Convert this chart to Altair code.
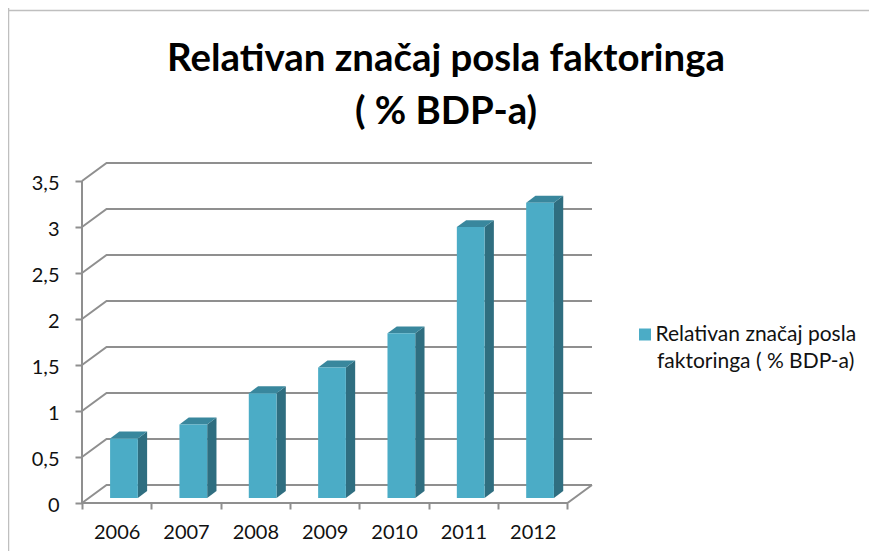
import altair as alt
import pandas as pd

TITLE = ["Relativan značaj posla faktoringa", "( % BDP-a)"]
SERIES = "Relativan značaj posla faktoringa ( % BDP-a)"
YEARS = [2006, 2007, 2008, 2009, 2010, 2011, 2012]
VALUES = [0.646, 0.80, 1.14, 1.42, 1.79, 2.945, 3.21]
TICKS = [0, 0.5, 1, 1.5, 2, 2.5, 3, 3.5]
LEGEND_LINES = ["Relativan značaj posla", "faktoringa ( % BDP-a)"]

FONT = "Lato"
GRID = "#8f8f8f"
FRONT = "#4bacc6"
SIDE = "#2f6e80"
TOP = "#39879d"
FRAME = "#bfbfbf"

# chart box geometry, in category units (x) and value units (y)
N = len(YEARS)
WALL_DX, WALL_DY = 0.354, 0.196
BAR_LEFT, BAR_W = 0.405, 0.40
BAR_DX, BAR_DY = 0.134, 0.076
BAR_BASE = 0.054
XMAX = N + WALL_DX
YMAX = TICKS[-1] + WALL_DY

xs = alt.Scale(domain=[0, XMAX], nice=False, zero=False)
ys = alt.Scale(domain=[0, YMAX], nice=False, zero=False)

grid_rows = []
for t in TICKS:
    grid_rows += [
        dict(id=f"g{t}", o=0, x=0, y=t),
        dict(id=f"g{t}", o=1, x=WALL_DX, y=t + WALL_DY),
        dict(id=f"g{t}", o=2, x=XMAX, y=t + WALL_DY),
    ]
grid_rows += [
    dict(id="floor", o=0, x=XMAX, y=WALL_DY),
    dict(id="floor", o=1, x=N, y=0),
    dict(id="floor", o=2, x=0, y=0),
    dict(id="axis", o=0, x=0, y=0),
    dict(id="axis", o=1, x=0, y=TICKS[-1]),
]
grid_df = pd.DataFrame(grid_rows)

front_rows, side_rows, top_rows = [], [], []
for i, (yr, v) in enumerate(zip(YEARS, VALUES)):
    l = i + BAR_LEFT
    r = l + BAR_W
    b = BAR_BASE
    t = b + v
    front_rows.append(dict(year=yr, x=l, x2=r, y=b, y2=t, s=SERIES))
    side_rows += [
        dict(year=yr, x=r, y=b, y2=t),
        dict(year=yr, x=r + BAR_DX, y=b + BAR_DY, y2=t + BAR_DY),
    ]
    top_rows += [
        dict(year=yr, x=l, y=t, y2=t),
        dict(year=yr, x=l + BAR_DX, y=t, y2=t + BAR_DY),
        dict(year=yr, x=r, y=t, y2=t + BAR_DY),
        dict(year=yr, x=r + BAR_DX, y=t + BAR_DY, y2=t + BAR_DY),
    ]

x_ticks = [k / 2 for k in range(0, 2 * N + 1)]
x_axis = alt.Axis(
    values=x_ticks, title=None, domain=False, grid=False, tickColor=GRID, tickWidth=2,
    tickSize=6, labelOverlap=False, labelFont=FONT, labelFontSize=20, labelColor="#111111",
    labelPadding=13, labelBound=False, labelFlush=False, labelAngle=0,
    tickOpacity={"condition": {"test": "datum.value % 1 == 0", "value": 1}, "value": 0},
    labelExpr=f"datum.value % 1 == 0.5 ? '' + ({YEARS[0]} + floor(datum.value)) : ''",
)
y_axis = alt.Axis(
    values=TICKS, title=None, domain=False, grid=False, tickColor=GRID, tickWidth=2, tickSize=7,
    labelOverlap=False, labelFont=FONT, labelFontSize=20, labelColor="#111111", labelPadding=16,
    labelOffset=2, labelBound=False, labelExpr="replace(format(datum.value, '~g'), '.', ',')",
)
X = alt.X("x:Q", scale=xs, axis=x_axis)
Y = alt.Y("y:Q", scale=ys, axis=y_axis)

lines = alt.Chart(grid_df).mark_line(color=GRID, strokeWidth=2).encode(
    x=X, y=Y, detail="id:N", order="o:Q",
)

legend = alt.Legend(
    orient="none", legendX=552.5, legendY=161, title=None, padding=0, symbolType="square",
    symbolSize=144, symbolStrokeWidth=0, labelFont=FONT, labelFontSize=21, labelColor="#111111",
    labelLimit=400, labelOffset=0, labelBaseline="middle",
    labelExpr=f"'{LEGEND_LINES[0]}'",
)

front = alt.Chart(pd.DataFrame(front_rows)).mark_rect(opacity=1).encode(
    x=X,
    x2="x2:Q",
    y=Y,
    y2="y2:Q",
    color=alt.Color("s:N", scale=alt.Scale(domain=[SERIES], range=[FRONT]), legend=legend),
)


def face(rows, colour):
    return alt.Chart(pd.DataFrame(rows)).mark_area(color=colour, opacity=1).encode(
        x=X, y=Y, y2="y2:Q", detail="year:N",
    )


side = face(side_rows, SIDE)
top = face(top_rows, TOP)

legend_second = alt.Chart(pd.DataFrame({"t": [LEGEND_LINES[1]]})).mark_text(
    font=FONT, fontSize=21, color="#111111", align="left", baseline="middle"
).encode(text="t:N", x=alt.value(575), y=alt.value(199))

frame_left = alt.Chart(pd.DataFrame({"a": [0]})).mark_rule(color=FRAME, strokeWidth=1.5).encode(
    x=alt.value(-73.5), y=alt.value(-162), y2=alt.value(400)
)
frame_top = alt.Chart(pd.DataFrame({"a": [0]})).mark_rule(color=FRAME, strokeWidth=1.5).encode(
    x=alt.value(-74), x2=alt.value(800), y=alt.value(-152.5)
)

chart = alt.layer(frame_left, frame_top, lines, side, top, front, legend_second).properties(
    width=510,
    height=340,
    padding={"left": 74, "top": 155, "right": 277, "bottom": 48},
    autosize=alt.AutoSizeParams(type="none"),
    title=alt.TitleParams(
        text=TITLE, font=FONT, fontSize=38.4, fontWeight="bold", color="#000000",
        anchor="middle", lineHeight=53, dx=109, offset=0, dy=132,
    ),
).configure_view(stroke=None)

chart.save("out.html", embed_options={"renderer": "svg", "actions": False})
